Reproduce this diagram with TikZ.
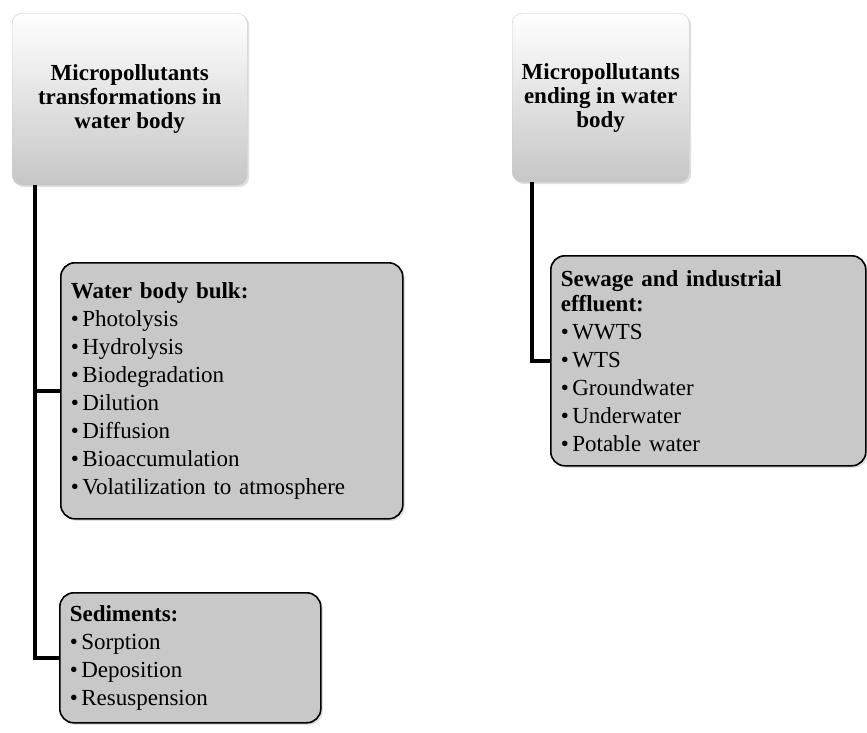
\documentclass[tikz,border=0pt]{standalone}
\usepackage{fontspec}
\setmainfont{Liberation Serif}
\usetikzlibrary{shadows}

\definecolor{boxgray}{RGB}{200,200,200}
\definecolor{topgray}{RGB}{198,198,198}
\newcommand{\bul}{\textbullet\hspace{3.5pt}}

\tikzset{
    titlebox/.style={anchor=north west, rounded corners=10pt, draw=black!20, top color=white, bottom color=topgray,
        align=center, inner sep=0pt, font=\fontsize{23}{24}\selectfont\bfseries,
        drop shadow={opacity=0.25, shadow xshift=2pt, shadow yshift=-2pt}},
    listbox/.style={anchor=north west, rounded corners=14pt, draw=black, line width=1.6pt, fill=boxgray,
        align=left, inner xsep=10pt, inner ysep=0pt, font=\fontsize{23}{28}\selectfont,
        drop shadow={opacity=0.25, shadow xshift=2pt, shadow yshift=-2pt}},
    link/.style={line width=4pt, black}
}

\begin{document}
\begin{tikzpicture}[x=1pt, y=-1pt]
    \useasboundingbox (0,0) rectangle (867,732);

    % Cajas de titulo
    \node[titlebox, minimum width=235pt, minimum height=172pt] (transf) at (12,13) {Micropollutants\\transformations in\\water body};
    \node[titlebox, minimum width=177pt, minimum height=169pt] (ending) at (512,13) {Micropollutants\\ending in water\\body};

    % Listas
    \node[listbox, text width=322pt, minimum height=256pt] (bulk) at (60,262) {\textbf{Water body bulk:}\\
        \bul Photolysis\\
        \bul Hydrolysis\\
        \bul Biodegradation\\
        \bul Dilution\\
        \bul Diffusion\\
        \bul Bioaccumulation\\
        \bul Volatilization to atmosphere};
    \node[listbox, text width=241pt, minimum height=130pt] (sedim) at (59,592) {\textbf{Sediments:}\\
        \bul Sorption\\
        \bul Deposition\\
        \bul Resuspension};
    \node[listbox, text width=295pt, minimum height=210pt] (sewage) at (550,255) {\textbf{Sewage and industrial}\\[-3pt]
        \textbf{effluent:}\\
        \bul WWTS\\
        \bul WTS\\
        \bul Groundwater\\
        \bul Underwater\\
        \bul Potable water};

    % Conectores
    \draw[link] ([xshift=23pt]transf.south west) |- (bulk.west);
    \draw[link] ([xshift=23pt]transf.south west) |- (sedim.west);
    \draw[link] ([xshift=20pt]ending.south west) |- (sewage.west);
\end{tikzpicture}
\end{document}
